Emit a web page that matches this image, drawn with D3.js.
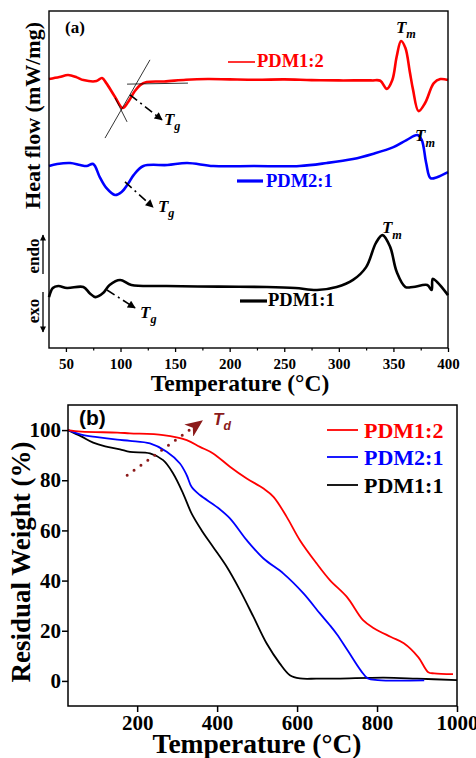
<!DOCTYPE html>
<html>
<head>
<meta charset="utf-8">
<script src="https://cdn.jsdelivr.net/npm/d3@7"></script>
<style>
body { margin: 0; background: #fff; }
svg text { font-family: "Liberation Serif", "Times New Roman", serif; font-weight: bold; }
</style>
</head>
<body>
<script>
// ---- panel (a): DSC traces, [temperature (C), heat flow (a.u.)]
var dscPDM12 = [[34.5,79.8],[44,80.4],[52,81.0],[60,80.3],[66,79.5],[78,79.2],[83,80.1],[87,78.6],[95,74.5],[102,71.2],[107,73.0],
  [113,76.2],[118,78.0],[124,78.9],[140,79.1],[160,79.6],[180,79.8],[200,79.7],[225,79.6],[250,79.7],[275,79.5],[300,79.4],
  [330,79.4],[338,79.3],[344,76.9],[349,79.5],[353,86.5],[357,91.1],[361,89.0],[365,82.0],[368,76.6],[373,70.3],[379,72.7],
  [387,78.6],[393,79.8],[400,79.5]];
var dscPDM21 = [[34.5,54.0],[42,54.6],[54,54.9],[63,54.3],[69,54.0],[75,54.6],[81,50.7],[87,47.5],[95,45.4],[101,46.3],[107,48.8],
  [112,51.3],[121,54.0],[143,54.3],[161,54.9],[185,54.0],[222,54.0],[264,54.0],[289,54.9],[313,56.1],[331,57.6],[350,59.6],
  [362,61.7],[372,63.2],[376,61.7],[380,54.9],[384,50.4],[390,50.7],[400,52.2]];
var dscPDM11 = [[34.5,15.1],[38,17.8],[43,18.4],[51,17.8],[66,18.1],[72,16.2],[77,15.1],[84,16.3],[90,18.7],[99.6,20.2],[110,18.7],
  [142,18.4],[190,18.2],[234,18.1],[260,17.8],[280,17.2],[298,18.1],[313,20.2],[325,24.0],[334,31.2],[340,33.5],[347,30.0],
  [353,22.6],[361,18.1],[368,18.1],[381,18.7],[385,17.2],[386,20.5],[390,19.6],[400,15.7]];
var dscNames  = ["PDM1:2", "PDM2:1", "PDM1:1"];
var dscColors = ["#ff0000", "#0000ff", "#000000"];
var xTicksA = [50, 100, 150, 200, 250, 300, 350, 400];
var xMinorA = [75, 125, 175, 225, 275, 325, 375];

// Tg arrows [start T, start HF, tip T, tip HF] and Tm label spots
var tgArrows = [[108.7,75.1,138,67.7],[104.1,49.3,129.8,41.8],[87.6,17.2,113.3,11.9]];
var tgLabels = [[139.8,66.3],[134.3,40.4],[117.9,8.9]];
var tmLabels = [[352.3,93.5],[369.8,61.4],[339.5,34.1]];
// tangent construction lines on the PDM1:2 glass transition
var tangents = [[85.8,62.3,127,85.5],[95,74.2,106,67.1],[106,78.3,161.8,78.6]];

// ---- panel (b): TGA traces, [temperature (C), residual weight %]
var tgaPDM12 = [[27,100],[60,99.4],[150,99],[182,98.7],[265,98],[324,96],[357,93.3],[390,90.7],[432,85.4],[474,80.7],
  [516,76.7],[541,73.4],[574,65.4],[607,56.1],[649,46.8],[682,40.2],[725,33.4],[765,24.2],[792,21],[835,17.5],
  [867,15],[903,9.5],[928,3.5],[943,3],[990,2.7]];
var tgaPDM21 = [[27,100],[60,98.2],[100,97.2],[150,96.2],[182,95.7],[232,94.7],[274,91.4],[307,86.7],[324,82],[336,77.4],
  [357,74.1],[399,69.4],[432,64.8],[474,56.1],[516,48.8],[566,42.8],[616,34.9],[657,26.9],[682,22.2],[700,18.5],[727,12],
  [760,4],[777,1],[802,0.3],[918,0.2]];
var tgaPDM11 = [[27,100],[60,97.5],[90,95],[120,93.5],[157,92.3],[182,91.3],[232,90.7],[265,88],[290,82.7],[315,74.7],
  [336,66.8],[361,60.1],[390,53.4],[424,45.5],[457,36.2],[491,25.5],[524,14.9],[557,6.9],[582,2.3],[607,1.0],[649,0.9],
  [700,0.9],[817,1.3],[900,0.9],[1000,0.3]];
var tgaNames  = ["PDM1:2", "PDM2:1", "PDM1:1"];
var tgaColors = ["#ff0000", "#0000ff", "#000000"];
var xTicksB = [200, 400, 600, 800, 1000];
var yTicksB = [0, 20, 40, 60, 80, 100];
var tdArrow = [175, 82, 362, 103.6]; // [start T, start W, tip T, tip W]

var width = 476, height = 758;
var svg = d3.select("body").append("svg").attr("width", width).attr("height", height);
svg.append("rect").attr("width", width).attr("height", height).attr("fill", "#fff");

// arrow heads
var defs = svg.append("defs");
defs.append("marker").attr("id", "headBlack")
  .attr("viewBox", "0 -5 10 10").attr("refX", 9).attr("refY", 0)
  .attr("markerUnits", "userSpaceOnUse").attr("markerWidth", 12).attr("markerHeight", 8)
  .attr("orient", "auto")
  .append("path").attr("d", "M0,-5L10,0L0,5Z").attr("fill", "#000");
defs.append("marker").attr("id", "headSmall")
  .attr("viewBox", "0 -5 10 10").attr("refX", 9).attr("refY", 0)
  .attr("markerUnits", "userSpaceOnUse").attr("markerWidth", 7).attr("markerHeight", 6)
  .attr("orient", "auto")
  .append("path").attr("d", "M0,-5L10,0L0,5Z").attr("fill", "#000");
defs.append("marker").attr("id", "headTd")
  .attr("viewBox", "0 -6 14 12").attr("refX", 13).attr("refY", 0)
  .attr("markerUnits", "userSpaceOnUse").attr("markerWidth", 19).attr("markerHeight", 15)
  .attr("orient", "auto")
  .append("path").attr("d", "M0,-6L14,0L0,6L4,0Z").attr("fill", "#8b1a1a");

// text with a subscript, e.g. T_g
function subText(g, x, y, main, sub, size, color, family, italic) {
  var t = g.append("text").attr("x", x).attr("y", y)
    .attr("font-size", size).attr("fill", color)
    .attr("font-style", italic ? "italic" : "normal");
  if (family) t.style("font-family", family);
  t.append("tspan").text(main);
  t.append("tspan").attr("dy", size * 0.32).attr("font-size", size * 0.72).text(sub);
  return t;
}

// ================= panel (a) =================
var xA = d3.scaleLinear().domain([34.5, 400]).range([49, 448]);
var yA = d3.scaleLinear().domain([0, 100]).range([348, 11]);
var gA = svg.append("g");

var lineA = d3.line().x(d => xA(d[0])).y(d => yA(d[1])).curve(d3.curveCatmullRom.alpha(0.5));
[dscPDM12, dscPDM21, dscPDM11].forEach(function(s, i) {
  gA.append("path").datum(s).attr("d", lineA)
    .attr("fill", "none").attr("stroke", dscColors[i]).attr("stroke-width", 2.6)
    .attr("stroke-linejoin", "round");
});

// tangents
gA.selectAll(".tan").data(tangents).enter().append("line")
  .attr("x1", d => xA(d[0])).attr("y1", d => yA(d[1]))
  .attr("x2", d => xA(d[2])).attr("y2", d => yA(d[3]))
  .attr("stroke", "#000").attr("stroke-width", 0.8);

// Tg arrows (dash-dot)
gA.selectAll(".tg").data(tgArrows).enter().append("line")
  .attr("x1", d => xA(d[0])).attr("y1", d => yA(d[1]))
  .attr("x2", d => xA(d[2])).attr("y2", d => yA(d[3]))
  .attr("stroke", "#000").attr("stroke-width", 1.6)
  .attr("stroke-dasharray", "9 4 2 4")
  .attr("marker-end", "url(#headBlack)");
tgLabels.forEach(function(d) {
  subText(gA, xA(d[0]), yA(d[1]), "T", "g", 17, "#000", null, true);
});
tmLabels.forEach(function(d) {
  subText(gA, xA(d[0]), yA(d[1]), "T", "m", 17, "#000", null, true);
});

// legends of panel (a)
var legA = [[228, 255, 62, 257, 67, 1.6], [237, 263, 181, 266, 187, 3.2], [240, 267, 301, 268, 306, 3.2]];
legA.forEach(function(l, i) {
  gA.append("line").attr("x1", l[0]).attr("x2", l[1]).attr("y1", l[2]).attr("y2", l[2])
    .attr("stroke", dscColors[i]).attr("stroke-width", l[5]);
  gA.append("text").attr("x", l[3]).attr("y", l[4]).attr("font-size", 18.5)
    .attr("fill", dscColors[i]).text(dscNames[i]);
});

// frame + axis
gA.append("rect").attr("x", 49).attr("y", 11).attr("width", 399).attr("height", 337)
  .attr("fill", "none").attr("stroke", "#000").attr("stroke-width", 1.4);
var axA = gA.append("g").attr("transform", "translate(0,348)")
  .call(d3.axisBottom(xA).tickValues(xTicksA).tickSize(4).tickPadding(6).tickFormat(d3.format("d")));
axA.select(".domain").remove();
axA.selectAll("line").attr("stroke-width", 1.3);
axA.selectAll("text").attr("font-size", 15).attr("font-family", "Liberation Serif").attr("font-weight", "bold");
var axAm = gA.append("g").attr("transform", "translate(0,348)")
  .call(d3.axisBottom(xA).tickValues(xMinorA).tickSize(2.5).tickFormat(""));
axAm.select(".domain").remove();
axAm.selectAll("line").attr("stroke-width", 1.2);

gA.append("text").attr("x", 240).attr("y", 391).attr("text-anchor", "middle")
  .attr("font-size", 23.5).text("Temperature (\u00B0C)");
gA.append("text").attr("transform", "translate(40,115.5) rotate(-90)").attr("text-anchor", "middle")
  .attr("font-size", 22).text("Heat flow (mW/mg)");
gA.append("text").attr("x", 65).attr("y", 33).attr("font-size", 17).text("(a)");

// endo / exo
gA.append("text").attr("transform", "translate(39,256) rotate(-90)").attr("text-anchor", "middle")
  .attr("font-size", 17).text("endo");
gA.append("text").attr("transform", "translate(39,311) rotate(-90)").attr("text-anchor", "middle")
  .attr("font-size", 17).text("exo");
gA.append("line").attr("x1", 43).attr("y1", 274).attr("x2", 43).attr("y2", 235)
  .attr("stroke", "#000").attr("stroke-width", 1.3).attr("marker-end", "url(#headSmall)");
gA.append("line").attr("x1", 43).attr("y1", 292).attr("x2", 43).attr("y2", 332)
  .attr("stroke", "#000").attr("stroke-width", 1.3).attr("marker-end", "url(#headSmall)");

// ================= panel (b) =================
var xB = d3.scaleLinear().domain([27, 1000]).range([68, 457]);
var yB = d3.scaleLinear().domain([-10, 110]).range([706, 405]);
var gB = svg.append("g");

var lineB = d3.line().x(d => xB(d[0])).y(d => yB(d[1])).curve(d3.curveCatmullRom.alpha(0.5));
[tgaPDM11, tgaPDM21, tgaPDM12].forEach(function(s, k) {
  var i = 2 - k;
  gB.append("path").datum(s).attr("d", lineB)
    .attr("fill", "none").attr("stroke", tgaColors[i]).attr("stroke-width", 1.8);
});

// Td dotted arrow
gB.append("line")
  .attr("x1", xB(tdArrow[0])).attr("y1", yB(tdArrow[1]))
  .attr("x2", xB(tdArrow[2])).attr("y2", yB(tdArrow[3]))
  .attr("stroke", "#8b1a1a").attr("stroke-width", 3)
  .attr("stroke-linecap", "round").attr("stroke-dasharray", "0 8.5")
  .attr("marker-end", "url(#headTd)");
subText(gB, 213, 425, "T", "d", 17, "#8b1a1a", "Liberation Sans", true);

// legend of panel (b)
var legBy = [430, 457, 485];
legBy.forEach(function(y, i) {
  gB.append("line").attr("x1", 327).attr("x2", 358).attr("y1", y).attr("y2", y)
    .attr("stroke", tgaColors[i]).attr("stroke-width", 1.8);
  gB.append("text").attr("x", 364).attr("y", y + 7.5).attr("font-size", 22)
    .attr("fill", tgaColors[i]).text(tgaNames[i]);
});

gB.append("rect").attr("x", 68).attr("y", 405).attr("width", 389).attr("height", 301)
  .attr("fill", "none").attr("stroke", "#000").attr("stroke-width", 1.5);
var axBx = gB.append("g").attr("transform", "translate(0,706)")
  .call(d3.axisBottom(xB).tickValues(xTicksB).tickSize(6).tickPadding(3).tickFormat(d3.format("d")));
var axBy = gB.append("g").attr("transform", "translate(68,0)")
  .call(d3.axisLeft(yB).tickValues(yTicksB).tickSize(6).tickPadding(1).tickFormat(d3.format("d")));
[axBx, axBy].forEach(function(ax) {
  ax.select(".domain").remove();
  ax.selectAll("line").attr("stroke-width", 1.5);
  ax.selectAll("text").attr("font-size", 21).attr("font-family", "Liberation Serif").attr("font-weight", "bold");
});

gB.append("text").attr("x", 257).attr("y", 753).attr("text-anchor", "middle")
  .attr("font-size", 27.5).text("Temperature (\u00B0C)");
gB.append("text").attr("transform", "translate(30,562) rotate(-90)").attr("text-anchor", "middle")
  .attr("font-size", 27).text("Residual Weight (%)");
gB.append("text").attr("x", 79).attr("y", 425).attr("font-size", 21)
  .style("font-family", "Liberation Sans").text("(b)");
</script>
</body>
</html>
